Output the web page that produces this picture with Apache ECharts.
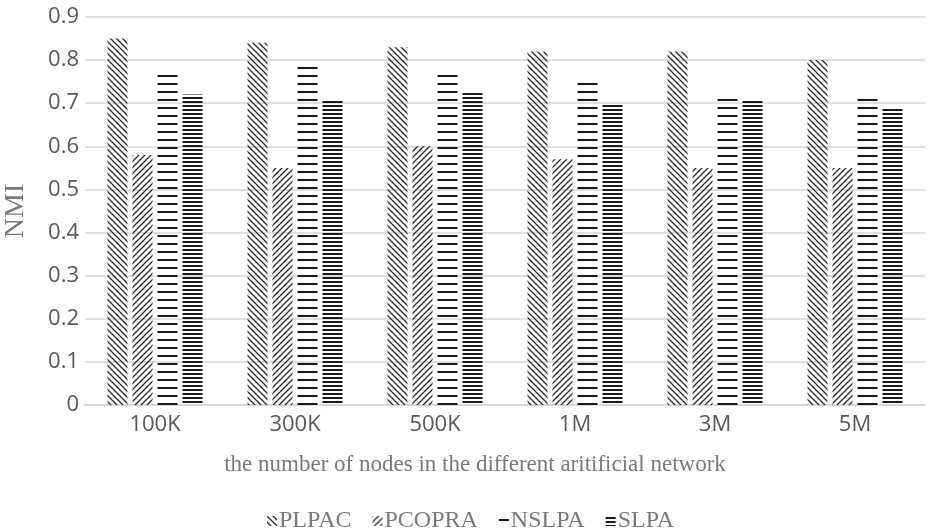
<!DOCTYPE html>
<html>
<head>
<meta charset="utf-8">
<script src="https://cdn.jsdelivr.net/npm/echarts@6/dist/echarts.min.js"></script>
<style>
  html, body { margin: 0; padding: 0; background: #fff; }
  #chart { width: 928px; height: 530px; }
</style>
</head>
<body>
<div id="chart"></div>
<script>
// Network sizes and NMI scores per algorithm
const categories = ['100K', '300K', '500K', '1M', '3M', '5M'];
const seriesNames = ['PLPAC', 'PCOPRA', 'NSLPA', 'SLPA'];
const plpac  = [0.85, 0.84, 0.83, 0.82, 0.82, 0.80];
const pcopra = [0.58, 0.55, 0.60, 0.57, 0.55, 0.55];
const nslpa  = [0.775, 0.79, 0.775, 0.75, 0.72, 0.72];
const slpa   = [0.72, 0.71, 0.725, 0.70, 0.71, 0.69];
const yTicks = [0, 0.1, 0.2, 0.3, 0.4, 0.5, 0.6, 0.7, 0.8, 0.9];

// Hatch fills drawn on small tiles
function makeTile(w, h, color, draw) {
  const c = document.createElement('canvas');
  c.width = w; c.height = h;
  const ctx = c.getContext('2d');
  ctx.strokeStyle = color;
  ctx.fillStyle = color;
  draw(ctx, w, h);
  return c;
}
const backDiag = makeTile(6, 6, '#2a2a2a', (ctx, w, h) => {
  ctx.lineWidth = 1.3;
  ctx.beginPath();
  ctx.moveTo(-1, -1); ctx.lineTo(w + 1, h + 1);
  ctx.moveTo(w - 1, -1); ctx.lineTo(2 * w + 1, h + 1);
  ctx.moveTo(-w - 1, -1); ctx.lineTo(1, h + 1);
  ctx.stroke();
});
const fwdDiag = makeTile(6, 6, '#2a2a2a', (ctx, w, h) => {
  ctx.lineWidth = 1.3;
  ctx.beginPath();
  ctx.moveTo(-1, h + 1); ctx.lineTo(w + 1, -1);
  ctx.moveTo(-w - 1, h + 1); ctx.lineTo(1, -1);
  ctx.moveTo(w - 1, h + 1); ctx.lineTo(2 * w + 1, -1);
  ctx.stroke();
});
const wideLines = makeTile(8, 8, '#1a1a1a', (ctx, w) => { ctx.fillRect(0, 3, w, 2); });
const denseLines = makeTile(4, 4, '#1a1a1a', (ctx, w) => { ctx.fillRect(0, 1, w, 2); });

const fills = [backDiag, fwdDiag, wideLines, denseLines];
const values = [plpac, pcopra, nslpa, slpa];

const serifFont = '"Liberation Serif", "DejaVu Serif", serif';
const sansFont = '"Open Sans", "Noto Sans", sans-serif';

const chart = echarts.init(document.getElementById('chart'), null, { renderer: 'canvas' });
chart.setOption({
  animation: false,
  backgroundColor: '#ffffff',
  grid: { left: 85, right: 3, top: 17, bottom: 125, containLabel: false, outerBoundsMode: 'none' },
  legend: {
    bottom: -8,
    left: 262,
    icon: 'rect',
    itemWidth: 10,
    itemHeight: 10,
    itemGap: 21,
    textStyle: { fontFamily: serifFont, fontSize: 24, color: '#7a7a7a', padding: [0, 0, 0, -3] },
    data: seriesNames
  },
  xAxis: {
    type: 'category',
    data: categories,
    name: 'the number of nodes in the different aritificial network',
    nameLocation: 'middle',
    nameGap: 48,
    nameTextStyle: { fontFamily: serifFont, fontSize: 23, color: '#7a7a7a', padding: [0, 60, 0, 0] },
    axisLine: { lineStyle: { color: '#d9d9d9', width: 2 } },
    axisTick: { show: false },
    axisLabel: { fontFamily: sansFont, fontSize: 22, color: '#595959', margin: 9 }
  },
  yAxis: {
    type: 'value',
    min: yTicks[0],
    max: yTicks[yTicks.length - 1],
    interval: 0.1,
    name: 'NMI',
    nameLocation: 'middle',
    nameGap: 55,
    nameRotate: 90,
    nameTextStyle: { fontFamily: serifFont, fontSize: 28, color: '#7a7a7a' },
    axisLine: { show: false },
    axisTick: { show: false },
    axisLabel: {
      fontFamily: sansFont, fontSize: 22, color: '#595959', margin: 6,
      formatter: v => (Math.round(v * 10) / 10).toString()
    },
    splitLine: { lineStyle: { color: '#e0e0e0', width: 2 } }
  },
  series: seriesNames.map((name, i) => ({
    name: name,
    type: 'bar',
    data: values[i],
    barWidth: 20,
    barGap: '25%',
    itemStyle: { color: { image: fills[i], repeat: 'repeat' } }
  }))
});
</script>
</body>
</html>
